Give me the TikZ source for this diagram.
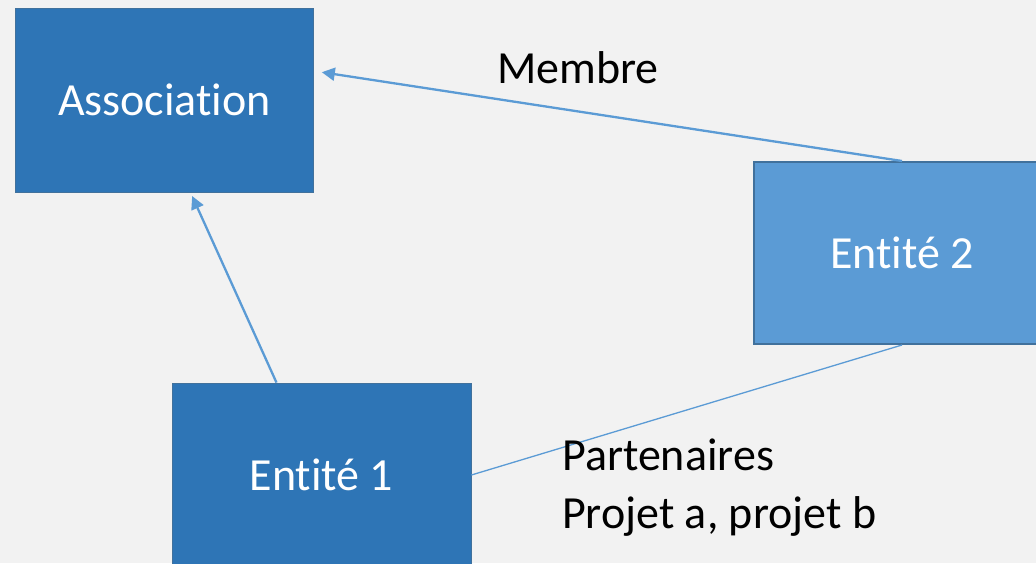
\documentclass[tikz,border=0pt]{standalone}
\usepackage{fontspec}
\setmainfont{Carlito}[Ligatures=NoCommon]
\usepackage{tikz}
\usetikzlibrary{arrows.meta,positioning}
\definecolor{boxdark}{HTML}{2E75B6}
\definecolor{boxlight}{HTML}{5B9BD5}
\definecolor{boxedge}{HTML}{41719C}
\definecolor{bgcol}{HTML}{F2F2F2}
\tikzset{>={Triangle[length=13pt,width=13pt]}}
\tikzset{
  entbox/.style={rectangle,fill=boxdark,draw=boxedge,line width=0.8pt,text=white,
    minimum width=298pt,minimum height=184pt,inner sep=0pt,font=\fontsize{46}{55}\selectfont},
  lien/.style={draw=boxlight,line width=2.3pt},
  lbl/.style={inner sep=0pt,anchor=base west,font=\fontsize{46}{58}\selectfont}
}

\begin{document}
\begin{tikzpicture}[x=1pt,y=-1pt]
    \fill[bgcol] (0,0) rectangle (1036,563);
    \useasboundingbox (0,0) rectangle (1036,563);
    % boites
    \node[entbox] (assoc) at (164.5,100) {Associat\kern0pt ion};
    \node[entbox,minimum width=299pt] (ent1) at (321.5,475) {Ent\kern0pt ité 1};
    \node[entbox,fill=boxlight,line width=2pt,minimum width=296pt,minimum height=182pt] (ent2) at (902,253) {Ent\kern0pt ité 2};
    % liens
    \draw[lien,->,shorten >=8pt] (ent2.north) -- ([yshift=29pt]assoc.east);
    \draw[lien,->,shorten >=4pt] ([xshift=-45pt]ent1.north) -- ([xshift=26pt]assoc.south);
    \draw[lien,line width=1.3pt] (ent1.east) -- (ent2.south);
    % textes
    \node[lbl] (membre) at (497,83) {Membre};
    \node[lbl,align=left] (parten) at (562,528) {Partenaires\\Projet a, projet b};
     \end{tikzpicture}
\end{document}
